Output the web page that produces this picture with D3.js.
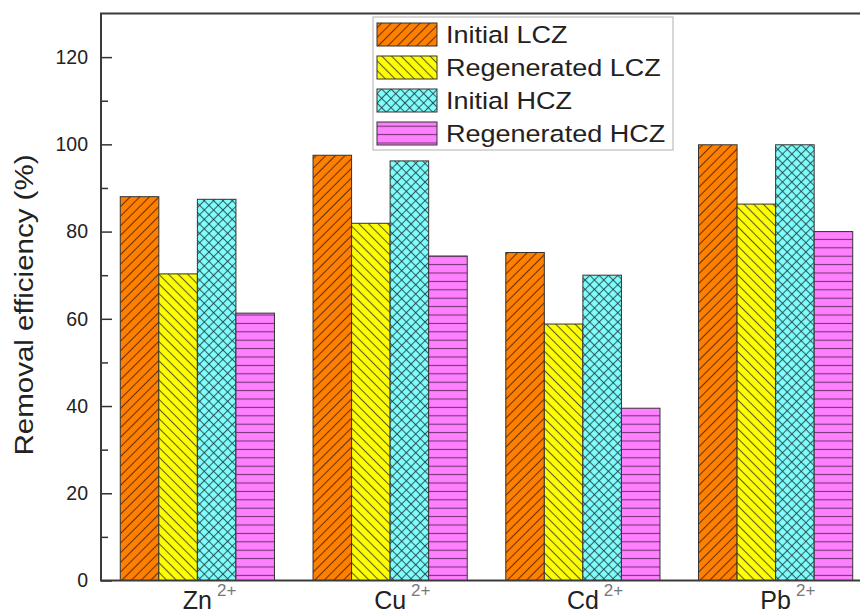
<!DOCTYPE html>
<html>
<head>
<meta charset="utf-8">
<script src="https://cdn.jsdelivr.net/npm/d3@7"></script>
<style>
  body { margin: 0; background: #fff; }
  svg { display: block; font-family: "Liberation Sans", Arial, sans-serif; }
</style>
</head>
<body>
<script>
// data
const ions = ["Zn", "Cu", "Cd", "Pb"];
const ionCharge = "2+";
const seriesNames = ["Initial LCZ", "Regenerated LCZ", "Initial HCZ", "Regenerated HCZ"];
const initialLCZ = [88.0, 97.5, 75.2, 99.9];
const regeneratedLCZ = [70.3, 81.9, 58.8, 86.3];
const initialHCZ = [87.4, 96.2, 70.0, 99.9];
const regeneratedHCZ = [61.3, 74.4, 39.5, 80.0];
const yTicks = [0, 20, 40, 60, 80, 100, 120];
const yMinorTicks = [10, 30, 50, 70, 90, 110];
const yLabel = "Removal efficiency (%)";

const seriesValues = [initialLCZ, regeneratedLCZ, initialHCZ, regeneratedHCZ];

const width = 860, height = 615;
const plotL = 101, plotT = 13.5, plotB = 580.5, plotR = 872;

const svg = d3.select("body").append("svg")
  .attr("width", width)
  .attr("height", height);

const x0 = d3.scaleBand()
  .domain(ions)
  .range([plotL, plotR])
  .paddingInner(0.2)
  .paddingOuter(0.1);

const x1 = d3.scaleBand()
  .domain(seriesNames)
  .range([0, x0.bandwidth()]);

const y = d3.scaleLinear()
  .domain([0, 130])
  .range([plotB, plotT]);

// hatch patterns
const defs = svg.append("defs");
function hatch(id, fill, rot, size, lines, stroke, op) {
  const p = defs.append("pattern")
    .attr("id", id)
    .attr("patternUnits", "userSpaceOnUse")
    .attr("width", size)
    .attr("height", size);
  if (rot) p.attr("patternTransform", `rotate(${rot})`);
  p.append("rect").attr("width", size).attr("height", size).attr("fill", fill);
  lines.forEach(l => {
    p.append("line")
      .attr("x1", l[0]).attr("y1", l[1]).attr("x2", l[2]).attr("y2", l[3])
      .attr("stroke", stroke)
      .attr("stroke-opacity", op)
      .attr("stroke-width", 1.1);
  });
}
hatch("p0", "#ff8000", 45, 6.8, [[3.4, 0, 3.4, 6.8]], "#3a1800", 0.75);
hatch("p1", "#ffff00", -45, 6.8, [[3.4, 0, 3.4, 6.8]], "#333", 0.8);
hatch("p2", "#80ffff", 45, 6.6, [[3.3, 0, 3.3, 6.6], [0, 3.3, 6.6, 3.3]], "#1f3a3a", 0.8);
hatch("p3", "#ff80ff", 0, 8.4, [[0, 4.2, 8.4, 4.2]], "#502050", 0.8);

const fills = d3.scaleOrdinal()
  .domain(seriesNames)
  .range(["url(#p0)", "url(#p1)", "url(#p2)", "url(#p3)"]);

// bars
svg.append("g")
  .selectAll("g")
  .data(ions)
  .join("g")
  .attr("transform", d => `translate(${x0(d)},0)`)
  .selectAll("rect")
  .data((d, i) => seriesNames.map((s, j) => ({ s, v: seriesValues[j][i] })))
  .join("rect")
  .attr("x", d => x1(d.s))
  .attr("y", d => y(d.v))
  .attr("width", x1.bandwidth())
  .attr("height", d => y(0) - y(d.v))
  .attr("fill", d => fills(d.s))
  .attr("stroke", "#333")
  .attr("stroke-width", 1);

// y axis, ticks inward
const yAxis = svg.append("g")
  .attr("transform", `translate(${plotL},0)`)
  .call(d3.axisLeft(y).tickValues(yTicks).tickSize(-11).tickPadding(13));
yAxis.select(".domain").remove();
yAxis.selectAll("line").attr("stroke", "#333").attr("stroke-width", 1.5);
yAxis.selectAll("text")
  .attr("font-size", 19.5)
  .attr("font-family", "Liberation Sans, Arial, sans-serif")
  .attr("fill", "#222");

const yMinor = svg.append("g")
  .attr("transform", `translate(${plotL},0)`)
  .call(d3.axisLeft(y).tickValues(yMinorTicks).tickSize(-7).tickFormat(""));
yMinor.select(".domain").remove();
yMinor.selectAll("line").attr("stroke", "#333").attr("stroke-width", 1.5);

// frame
svg.append("rect")
  .attr("x", plotL)
  .attr("y", plotT)
  .attr("width", plotR - plotL)
  .attr("height", plotB - plotT)
  .attr("fill", "none")
  .attr("stroke", "#3a3a3a")
  .attr("stroke-width", 2);

// x labels with superscript
const xl = svg.append("g")
  .selectAll("g")
  .data(ions)
  .join("g")
  .attr("transform", d => `translate(${x0(d) + x0.bandwidth() / 2},0)`);
xl.append("text")
  .attr("class", "base")
  .attr("y", 609)
  .attr("text-anchor", "middle")
  .attr("font-size", 25)
  .attr("fill", "#222")
  .text(d => d);
xl.append("text")
  .attr("x", function () {
    const b = d3.select(this.parentNode).select(".base").node();
    return b.getComputedTextLength() / 2 + 5;
  })
  .attr("y", 596)
  .attr("font-size", 17)
  .attr("fill", "#777")
  .text(ionCharge);

// y label
svg.append("text")
  .attr("transform", "translate(33,305) rotate(-90) scale(1.18,1)")
  .attr("text-anchor", "middle")
  .attr("font-size", 25)
  .attr("fill", "#222")
  .text(yLabel);

// legend
const legend = svg.append("g").attr("transform", "translate(373,17)");
legend.append("rect")
  .attr("width", 300)
  .attr("height", 133)
  .attr("fill", "#fff")
  .attr("stroke", "#b0b0b0")
  .attr("stroke-width", 1);
const items = legend.selectAll("g.item")
  .data(seriesNames)
  .join("g")
  .attr("class", "item")
  .attr("transform", (d, i) => `translate(4,${6 + i * 33})`);
items.append("rect")
  .attr("width", 60)
  .attr("height", 23)
  .attr("fill", d => fills(d))
  .attr("stroke", "#333")
  .attr("stroke-width", 1);
items.append("text")
  .attr("transform", "translate(69,20) scale(1.15,1)")
  .attr("font-size", 23.5)
  .attr("fill", "#222")
  .text(d => d);
</script>
</body>
</html>
